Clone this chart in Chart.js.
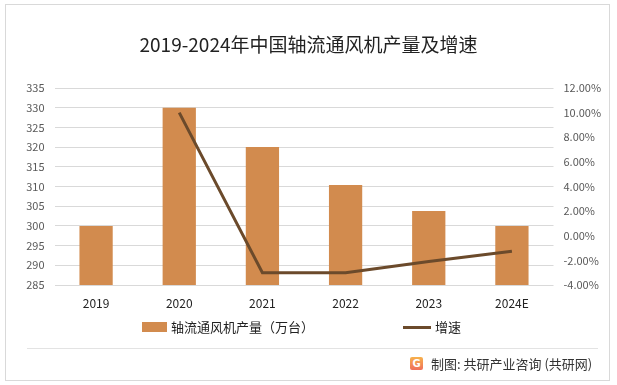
<!DOCTYPE html>
<html>
<head>
<meta charset="utf-8">
<script src="https://cdn.jsdelivr.net/npm/chart.js@4/dist/chart.umd.min.js"></script>
<style>
  body { margin: 0; background: #fff; font-family: "Noto Sans CJK SC", "Noto Sans", sans-serif; }
  #wrap { position: relative; width: 617px; height: 385px; overflow: hidden; }
  #frame { position: absolute; left: 5px; top: 4px; width: 605px; height: 377px; border: 1px solid #d9d9d9; box-sizing: border-box; }
  #canvas { position: absolute; left: 0; top: 0; }
  .txt { position: absolute; white-space: nowrap; color: #222; }
  #title { left: 0; width: 617px; top: 31px; text-align: center; font-size: 19px; line-height: 26px; }
  #sep { position: absolute; left: 27px; top: 348px; width: 571px; height: 1px; background: #e3e3e3; }
  .lg { font-size: 13px; line-height: 18px; color: #222; }
  #lgBar { position: absolute; left: 142px; top: 322px; width: 25px; height: 10px; background: #d28b4e; }
  #lgLine { position: absolute; left: 403px; top: 326px; width: 28px; height: 3px; background: #6b4a2b; }
  #icon { position: absolute; left: 410px; top: 357px; width: 13px; height: 13px; border-radius: 2px;
          background: linear-gradient(180deg, #f7b24c, #ef6f5b); color: #fff; font: bold 10px/13px "DejaVu Sans", sans-serif; text-align: center; }
</style>
</head>
<body>
<div id="wrap">
  <div id="frame"></div>
  <canvas id="canvas" width="617" height="385"></canvas>
  <div id="title" class="txt">2019-2024年中国轴流通风机产量及增速</div>
  <div id="lgBar"></div>
  <div class="txt lg" style="left:171px; top:318px;">轴流通风机产量（万台）</div>
  <div id="lgLine"></div>
  <div class="txt lg" style="left:435px; top:318px;">增速</div>
  <div id="sep"></div>
  <div id="icon">G</div>
  <div class="txt" style="left:431px; top:355px; font-size:13px; line-height:18px; color:#333;">制图: 共研产业咨询 (共研网)</div>
</div>
<script>
const years = ['2019', '2020', '2021', '2022', '2023', '2024E'];
const output = [300, 330, 320, 310.4, 303.8, 300];
const growth = [null, 10.0, -3.0, -3.0, -2.1, -1.25];

const leftTicks = { min: 285, max: 335, step: 5 };
const rightTicks = { min: -4, max: 12, step: 2 };

const tickFont = { family: '"Noto Sans CJK SC", "Noto Sans", sans-serif', size: 11 };

const myChart = new Chart(
    document.getElementById('canvas'),
    {
        type: 'bar',
        data: {
            labels: years,
            datasets: [
                {
                    type: 'line',
                    label: '增速',
                    data: growth,
                    yAxisID: 'y1',
                    borderColor: '#6b4a2b',
                    borderWidth: 3,
                    pointRadius: 0,
                    tension: 0,
                    fill: false,
                    spanGaps: false
                },
                {
                    type: 'bar',
                    label: '轴流通风机产量（万台）',
                    data: output,
                    yAxisID: 'y',
                    backgroundColor: '#d28b4e',
                    categoryPercentage: 1,
                    barPercentage: 0.4
                }
            ]
        },
        options: {
            responsive: false,
            animation: false,
            layout: { padding: { top: 88, left: 0, right: 0, bottom: 0 } },
            plugins: {
                legend: { display: false },
                title: { display: false },
                tooltip: { enabled: false }
            },
            scales: {
                x: {
                    grid: { display: false },
                    border: { display: false },
                    ticks: { color: '#222', font: { family: tickFont.family, size: 12 }, padding: 3 },
                    afterFit: (scale) => { scale.height = 100; }
                },
                y: {
                    position: 'left',
                    min: leftTicks.min,
                    max: leftTicks.max,
                    ticks: { stepSize: leftTicks.step, color: '#595959', font: tickFont, padding: 10 },
                    grid: { color: '#d9d9d9', drawTicks: false },
                    border: { display: false },
                    afterFit: (scale) => { scale.width = 54.5; }
                },
                y1: {
                    position: 'right',
                    min: rightTicks.min,
                    max: rightTicks.max,
                    ticks: {
                        stepSize: rightTicks.step,
                        color: '#595959',
                        font: tickFont,
                        padding: 10,
                        callback: (v) => v.toFixed(2) + '%'
                    },
                    grid: { display: false, drawTicks: false },
                    border: { display: false },
                    afterFit: (scale) => { scale.width = 63.5; }
                }
            }
        }
    }
);
</script>
</body>
</html>
